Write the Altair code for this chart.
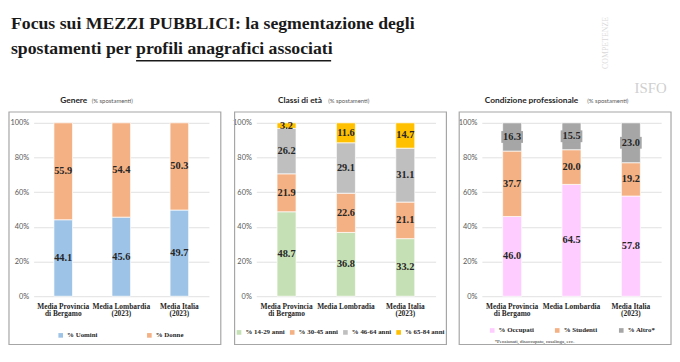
import altair as alt
import pandas as pd

# ---------------- data ----------------
CATS_GENERE = ["Media Provincia|di Bergamo", "Media Lombardia|(2023)", "Media Italia|(2023)"]
CATS_ETA = ["Media Provincia|di Bergamo", "Media Lombradia", "Media Italia|(2023)"]
CATS_COND = ["Media Provincia|di Bergamo", "Media Lombardia", "Media Italia|(2023)"]

SERIES_GENERE = ["% Uomini", "% Donne"]
UOMINI = [44.1, 45.6, 49.7]
DONNE = [55.9, 54.4, 50.3]

SERIES_ETA = ["% 14-29 anni", "% 30-45 anni", "% 46-64 anni", "% 65-84 anni"]
ETA_14_29 = [48.7, 36.8, 33.2]
ETA_30_45 = [21.9, 22.6, 21.1]
ETA_46_64 = [26.2, 29.1, 31.1]
ETA_65_84 = [3.2, 11.6, 14.7]

SERIES_COND = ["% Occupati", "% Studenti", "% Altro*"]
OCCUPATI = [46.0, 64.5, 57.8]
STUDENTI = [37.7, 20.0, 19.2]
ALTRO = [16.3, 15.5, 23.0]

COLORS_GENERE = ["#9dc3e6", "#f4b183"]
COLORS_ETA = ["#c5e0b4", "#f4b183", "#bfbfbf", "#ffc000"]
COLORS_COND = ["#ffccff", "#f4b183", "#a6a6a6"]

Y_TICKS = list(range(0, 101, 10))

SERIF = "Liberation Serif"
SANS = "Lato"
DARK = "#262626"


def long_df(cats, series, values):
    rows = []
    for si, (s, vals) in enumerate(zip(series, values)):
        for c, v in zip(cats, vals):
            rows.append({"cat": c, "series": s, "sidx": si, "value": v})
    return pd.DataFrame(rows)


def dummy():
    return alt.Data(values=[{"k": 0}])


def panel(cats, series, values, colors, width, box, legend_xy, col_pad,
          title_bold, title_x, small_x, footnote=None, label_bg=None):
    df = long_df(cats, series, values)
    base = alt.Chart(df).transform_stack(
        stack="value", groupby=["cat"], as_=["y0", "y1"],
        sort=[alt.SortField("sidx", order="ascending")]
    ).transform_calculate(mid="(datum.y0 + datum.y1) / 2")

    xscale = alt.Scale(paddingInner=0.68, paddingOuter=0.35)
    xaxis = alt.Axis(labelExpr="split(datum.label, '|')", labelAngle=0,
                     labelFont=SERIF, labelFontWeight="bold", labelFontSize=7.5,
                     labelColor=DARK, labelLineHeight=8, labelPadding=6,
                     labelOverlap=False, domain=False, ticks=False, grid=False)
    yscale = alt.Scale(domain=[0, 100], clamp=True, nice=False, zero=True)
    yaxis = alt.Axis(values=Y_TICKS, tickCount=10, labelExpr="datum.value + '%'",
                     domain=False, ticks=False, grid=True, gridColor="#d9d9d9",
                     gridWidth=0.8, labelFont=SANS, labelFontSize=7.5,
                     labelColor="#595959", labelPadding=5, labelOverlap=False,
                     labelBound=False)

    def X():
        return alt.X("cat:N", sort=cats, title=None, scale=xscale, axis=xaxis)

    def Y(field):
        return alt.Y(field, title=None, scale=yscale, axis=yaxis)

    bars = base.mark_bar(stroke="white", strokeWidth=0.7).encode(
        x=X(),
        y=Y("y0:Q"),
        y2="y1:Q",
        color=alt.Color(
            "series:N", scale=alt.Scale(domain=series, range=colors),
            legend=alt.Legend(title=None, orient="none", legendX=legend_xy[0],
                              legendY=legend_xy[1], direction="horizontal",
                              symbolType="square", symbolSize=22,
                              symbolStrokeWidth=0, labelFont=SERIF,
                              labelFontWeight="bold", labelFontSize=7,
                              labelColor=DARK, columnPadding=col_pad,
                              labelOffset=3, padding=0)),
    )
    layers = []
    frame = alt.Chart(dummy()).mark_rect(
        fill="white", fillOpacity=0, stroke="#a6a6a6", strokeWidth=1.2
    ).encode(x=alt.value(box[0]), x2=alt.value(box[1]),
             y=alt.value(-11), y2=alt.value(225))
    layers += [frame, bars]
    if label_bg:
        bg = base.transform_filter(
            alt.datum.series == label_bg[0]
        ).mark_point(shape="M-1.1,-0.6H1.1V0.6H-1.1Z", size=400, filled=True,
                     color=label_bg[1], opacity=1, strokeWidth=0).encode(
            x=X(), y=Y("mid:Q"))
        layers.append(bg)
    labels = base.mark_text(font=SERIF, fontWeight="bold", fontSize=10.5,
                            color=DARK).encode(
        x=X(),
        y=Y("mid:Q"),
        text=alt.Text("value:Q", format=".1f"),
    )
    t1 = alt.Chart(dummy()).mark_text(
        text=title_bold, font=SANS, fontWeight="bold", fontSize=8.5,
        color=DARK, align="left", baseline="middle"
    ).encode(x=alt.value(title_x), y=alt.value(-23))
    t2 = alt.Chart(dummy()).mark_text(
        text="(% spostamenti)", font=SANS, fontSize=6,
        color="#595959", align="left", baseline="middle"
    ).encode(x=alt.value(small_x), y=alt.value(-22.5))
    layers += [labels, t1, t2]
    if footnote:
        layers.append(alt.Chart(dummy()).mark_text(
            text=footnote, font=SERIF, fontSize=5, color=DARK,
            align="left", baseline="middle"
        ).encode(x=alt.value(13), y=alt.value(221)))
    return alt.layer(*layers).properties(width=width, height=176)


p1 = panel(CATS_GENERE, SERIES_GENERE, [UOMINI, DONNE], COLORS_GENERE,
           178, (-25, 190), (24, 212), 49, "Genere", 27, 59)
p2 = panel(CATS_ETA, SERIES_ETA, [ETA_14_29, ETA_30_45, ETA_46_64, ETA_65_84],
           COLORS_ETA, 182, (-22, 193), (-21, 209), 3, "Classi di età", 22, 73)
p3 = panel(CATS_COND, SERIES_COND, [OCCUPATI, STUDENTI, ALTRO], COLORS_COND,
           182, (-23, 192), (7, 207), 20, "Condizione professionale", 3, 107,
           footnote="*Pensionati, disoccupato, casalinga, ecc.",
           label_bg=("% Altro*", "#a6a6a6"))

row = alt.hconcat(p1, p2, p3, spacing=10).resolve_scale(
    color="independent", x="independent", y="independent")

# ---------------- slide title ----------------
TITLE_1 = "Focus sui MEZZI PUBBLICI: la segmentazione degli"
TITLE_2A = "spostamenti per"
TITLE_2B = "profili anagrafici associati"


def ttext(txt, x, y):
    return alt.Chart(dummy()).mark_text(
        text=txt, font=SERIF, fontWeight="bold", fontSize=18, color="#1a1a1a",
        align="left", baseline="alphabetic"
    ).encode(x=alt.value(x), y=alt.value(y))


underline = alt.Chart(dummy()).mark_rule(color="#1a1a1a", strokeWidth=1.5).encode(
    x=alt.value(104), x2=alt.value(302), y=alt.value(51))
wm = alt.Chart(dummy()).mark_text(
    text="ISFO", font=SERIF, fontSize=15, color="#cfcfcf", align="left",
    baseline="alphabetic"
).encode(x=alt.value(610), y=alt.value(84))
wm2 = alt.Chart(dummy()).mark_text(
    text="COMPETENZE", font=SERIF, fontSize=8, color="#d9d9d9", angle=270,
    align="center", baseline="middle"
).encode(x=alt.value(581), y=alt.value(33))

title_chart = alt.layer(
    ttext(TITLE_1, -23, 19), ttext(TITLE_2A, -23, 44), ttext(TITLE_2B, 104, 44),
    underline, wm, wm2
).properties(width=640, height=85)

chart = alt.vconcat(title_chart, row, spacing=0).properties(
    padding=0
).configure_view(stroke=None)

chart.save("out.html", embed_options={"renderer": "svg", "actions": False})
